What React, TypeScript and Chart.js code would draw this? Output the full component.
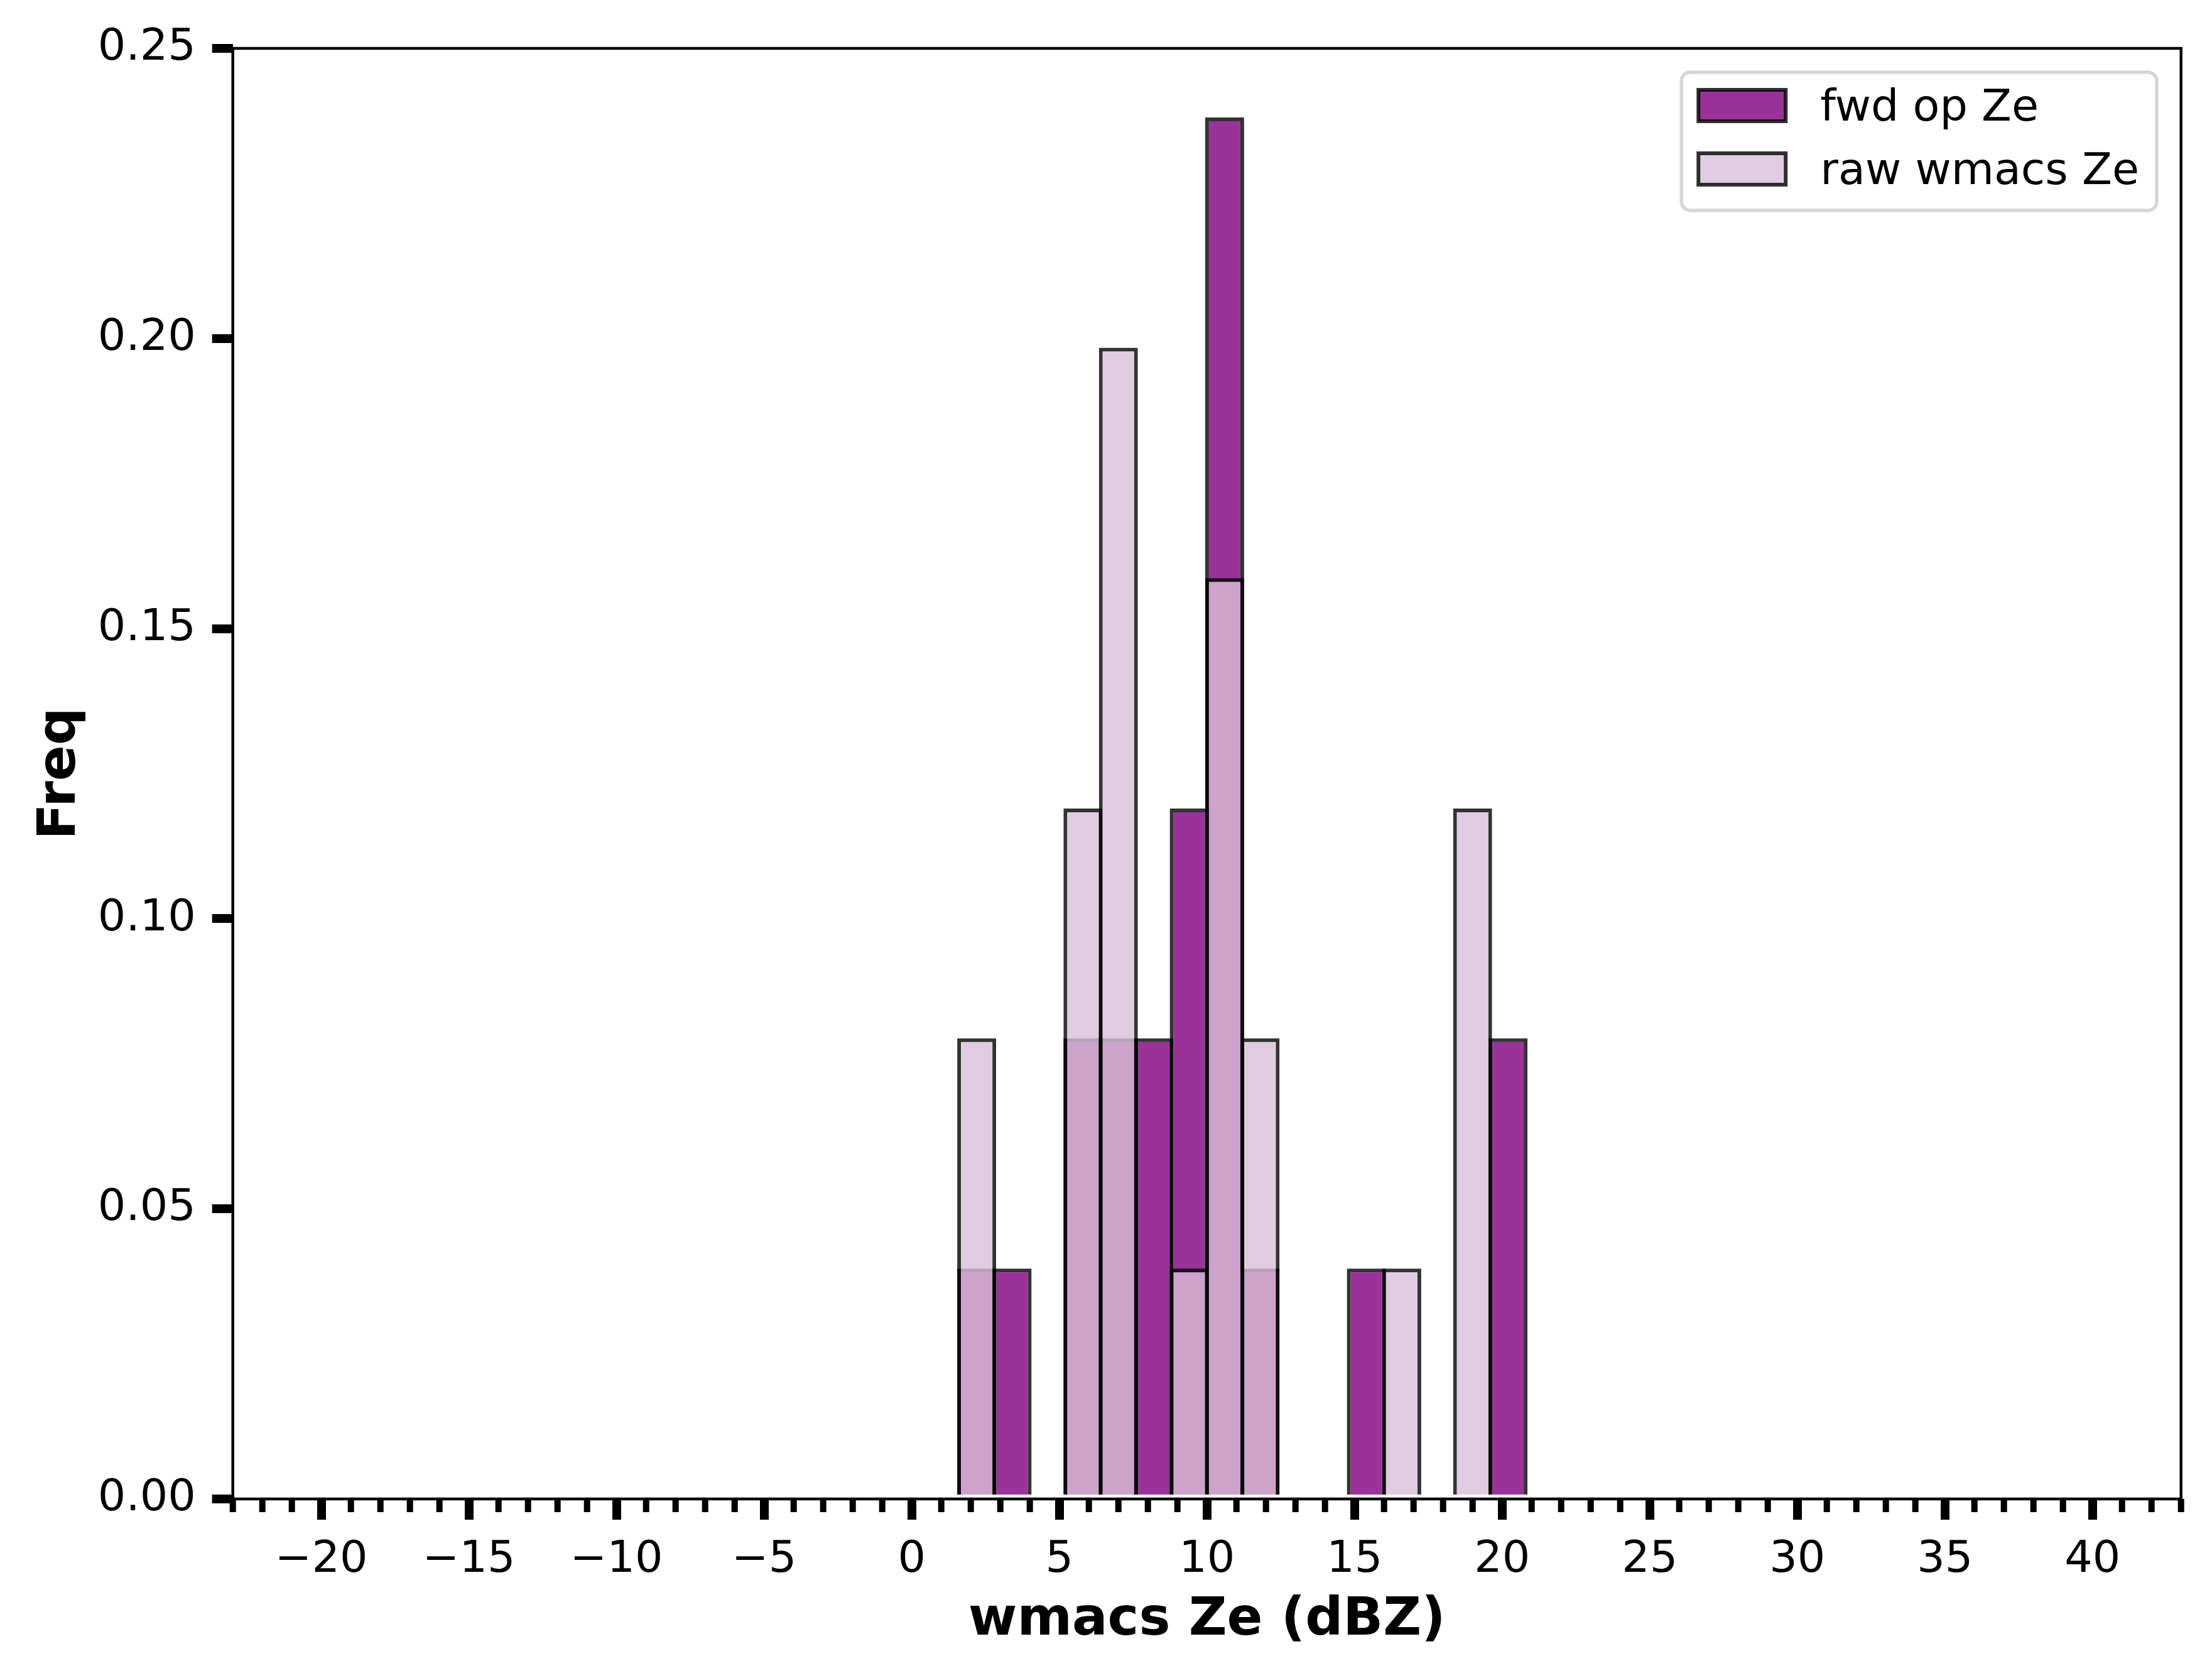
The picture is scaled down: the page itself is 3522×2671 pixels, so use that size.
import { useEffect, useRef } from 'react';
import { Chart, registerables } from 'chart.js';

Chart.register(...registerables);

// histogram bins are 1.2 dBZ wide, values are normalised frequencies
const FWD_BIN_CENTERS = [2.2, 3.4, 5.8, 7.0, 8.2, 9.4, 10.6, 11.8, 15.4, 20.2];
const FWD_FREQ = [0.0397, 0.0397, 0.0794, 0.0794, 0.0794, 0.119, 0.2381, 0.0397, 0.0397, 0.0794];
const RAW_BIN_CENTERS = [2.2, 5.8, 7.0, 9.4, 10.6, 11.8, 16.6, 19.0];
const RAW_FREQ = [0.0794, 0.119, 0.1984, 0.0397, 0.1587, 0.0794, 0.0397, 0.119];

const X_TICKS = [-20, -15, -10, -5, 0, 5, 10, 15, 20, 25, 30, 35, 40];
const Y_TICKS = [0, 0.05, 0.1, 0.15, 0.2, 0.25];
const X_MIN = -23;
const X_MAX = 43;

const FONT = '"DejaVu Sans", sans-serif';
const FWD_FILL = 'rgba(128, 0, 128, 0.8)';
const RAW_FILL = 'rgba(216, 191, 216, 0.8)';
const EDGE = 'rgba(0, 0, 0, 0.8)';

const fmtX = (v: number) => (v < 0 ? '\u2212' + Math.abs(v) : String(v));

// spines on all four sides + minor ticks on x
const framePlugin = {
  id: 'frame',
  afterDatasetsDraw(chart: any) {
    const { ctx, chartArea } = chart;
    const xs = chart.scales.x;
    ctx.save();
    ctx.fillStyle = '#000';
    for (let v = X_MIN; v <= X_MAX; v++) {
      if (X_TICKS.includes(v)) continue;
      const px = xs.getPixelForValue(v);
      ctx.fillRect(px - 5, chartArea.bottom, 10, 21);
    }
    ctx.strokeStyle = '#000';
    ctx.lineWidth = 4.5;
    ctx.strokeRect(chartArea.left, chartArea.top, chartArea.right - chartArea.left, chartArea.bottom - chartArea.top);
    ctx.restore();
  },
};

const legendPlugin = {
  id: 'boxLegend',
  afterDraw(chart: any) {
    const { ctx, chartArea } = chart;
    const fs = 70;
    ctx.save();
    ctx.font = `${fs}px ${FONT}`;
    const items = chart.data.datasets.map((d: any) => ({ text: d.label, fill: d.backgroundColor, edge: d.borderColor }));
    const textW = Math.max(...items.map((it: any) => ctx.measureText(it.text).width));
    const width = 221 + textW + 28;
    const height = 220;
    const right = chartArea.right - 38.7;
    const top = chartArea.top + 38;
    const left = right - width;

    ctx.beginPath();
    ctx.roundRect(left, top, width, height, 14);
    ctx.fillStyle = 'rgba(255, 255, 255, 0.8)';
    ctx.fill();
    ctx.lineWidth = 5.5;
    ctx.strokeStyle = '#d6d6d6';
    ctx.stroke();

    items.forEach((it: any, i: number) => {
      const y0 = top + 28 + i * 101;
      ctx.fillStyle = it.fill;
      ctx.fillRect(left + 27, y0, 139, 50);
      ctx.lineWidth = 6;
      ctx.strokeStyle = it.edge;
      ctx.strokeRect(left + 27, y0, 139, 50);
      ctx.fillStyle = '#000';
      ctx.textAlign = 'left';
      ctx.textBaseline = 'alphabetic';
      ctx.fillText(it.text, left + 221, top + 77 + i * 101);
    });
    ctx.restore();
  },
};

export default function App() {
  const canvasRef = useRef<HTMLCanvasElement>(null);

  useEffect(() => {
    document.body.style.margin = '0';
    const canvas = canvasRef.current;
    if (!canvas) return;

    const tickFont = { family: FONT, size: 70, lineHeight: 1.2 };
    const titleFont = { family: FONT, size: 84, weight: 'bold' as const, lineHeight: 1.2 };
    const grid = {
      display: true,
      drawOnChartArea: false,
      drawTicks: true,
      tickLength: 33,
      tickWidth: 14,
      tickColor: '#000',
      lineWidth: 14,
      color: '#000',
      offset: false,
    };

    const chart = new Chart(canvas, {
      type: 'bar',
      data: {
        datasets: [
          {
            label: 'fwd op Ze',
            data: FWD_BIN_CENTERS.map((x, i) => ({ x, y: FWD_FREQ[i] })),
            backgroundColor: FWD_FILL,
            borderColor: EDGE,
            borderWidth: 6,
            grouped: false,
            barPercentage: 1.1,
            categoryPercentage: 1,
            order: 1,
          },
          {
            label: 'raw wmacs Ze',
            data: RAW_BIN_CENTERS.map((x, i) => ({ x, y: RAW_FREQ[i] })),
            backgroundColor: RAW_FILL,
            borderColor: EDGE,
            borderWidth: 6,
            grouped: false,
            barPercentage: 1.1,
            categoryPercentage: 1,
            order: 0,
          },
        ],
      },
      options: {
        animation: false,
        responsive: true,
        maintainAspectRatio: false,
        layout: { padding: { left: 0, top: 77, right: 49.3, bottom: 0 } },
        plugins: {
          legend: { display: false },
          tooltip: { enabled: false },
        },
        scales: {
          x: {
            type: 'linear',
            min: X_MIN,
            max: X_MAX,
            offset: false,
            afterBuildTicks: (s: any) => {
              s.ticks = X_TICKS.map((v) => ({ value: v }));
            },
            afterFit: (s: any) => {
              s.height = 285;
            },
            grid,
            border: { display: false },
            ticks: {
              color: '#000',
              font: tickFont,
              padding: 23,
              maxRotation: 0,
              autoSkip: false,
              callback: (v: any) => fmtX(Number(v)),
            },
            title: {
              display: true,
              text: 'wmacs Ze (dBZ)',
              color: '#000',
              font: titleFont,
              padding: { top: 0, bottom: 40 },
            },
          },
          y: {
            type: 'linear',
            min: 0,
            max: 0.25,
            afterBuildTicks: (s: any) => {
              s.ticks = Y_TICKS.map((v) => ({ value: v }));
            },
            afterFit: (s: any) => {
              s.width = 370.7;
            },
            grid,
            border: { display: false },
            ticks: {
              color: '#000',
              font: tickFont,
              padding: 26,
              callback: (v: any) => Number(v).toFixed(2),
            },
            title: {
              display: true,
              text: 'Freq',
              color: '#000',
              font: titleFont,
              padding: { top: 47, bottom: 0 },
            },
          },
        },
      },
      plugins: [framePlugin, legendPlugin],
    } as any);

    return () => chart.destroy();
  }, []);

  return (
    <div style={{ width: 3522, height: 2671, position: 'relative', background: '#fff' }}>
      <canvas ref={canvasRef} style={{ display: 'block' }}></canvas>
    </div>
  );
}
